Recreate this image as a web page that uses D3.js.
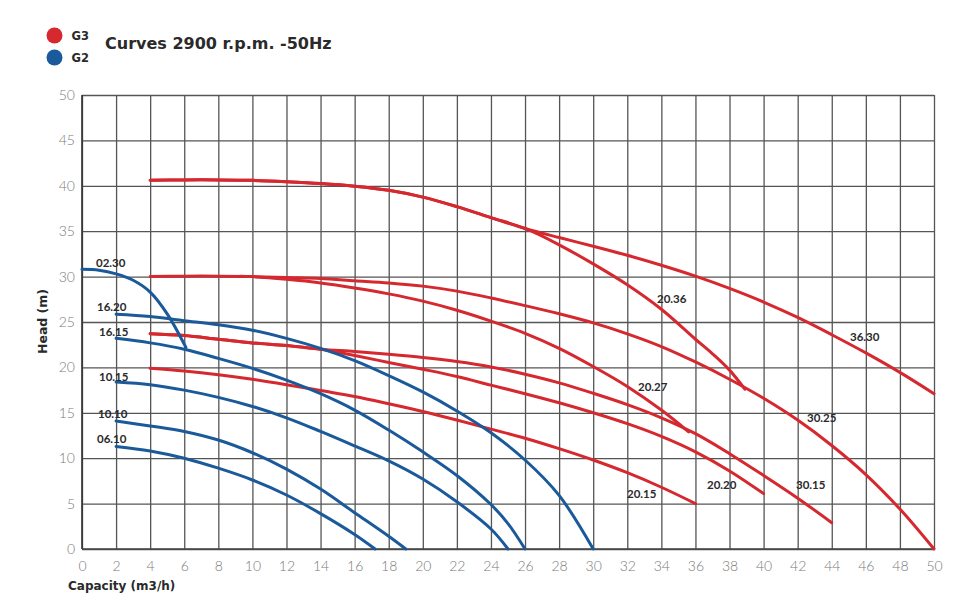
<!DOCTYPE html>
<html><head><meta charset="utf-8">
<script src="https://cdn.jsdelivr.net/npm/d3@7"></script>
<style>
body{margin:0;background:#fff;}
svg{display:block;}
</style></head>
<body><svg id="c" width="980" height="605"></svg>
<script>
// ---- data ----
const titleText = "Curves 2900 r.p.m. -50Hz";
const xLabel = "Capacity (m3/h)";
const yLabel = "Head (m)";
const xTickValues = d3.range(0, 51, 2);
const yTickValues = d3.range(0, 51, 5);
const legendItems = [{name: "G3", group: "G3"}, {name: "G2", group: "G2"}];

// G3 (red) series
const s3630 = [[4,40.6],[6,40.65],[8,40.65],[10,40.6],[12,40.45],[14,40.25],[16,39.95],[18,39.5],[20,38.75],[22,37.7],[24,36.5],[26,35.3],[28,34.3],[30,33.35],[32,32.35],[34,31.25],[36,30.05],[38,28.7],[40,27.2],[42,25.5],[44,23.6],[46,21.6],[48,19.45],[50,17.1]];
const s2036 = [[4,40.6],[6,40.65],[8,40.65],[10,40.6],[12,40.45],[14,40.25],[16,39.95],[18,39.5],[20,38.75],[22,37.7],[24,36.5],[26,35.3],[28,33.5],[30,31.4],[32,29.1],[34,26.4],[36,23.1],[37,21.5],[38,19.7],[38.9,17.6]];
const s3025 = [[4,30.0],[6,30.05],[8,30.05],[10,30.0],[12,29.9],[14,29.8],[16,29.55],[18,29.3],[20,28.95],[22,28.4],[24,27.65],[26,26.8],[28,25.9],[30,24.9],[32,23.7],[34,22.3],[36,20.6],[38,18.7],[40,16.6],[42,14.2],[44,11.4],[46,8.2],[48,4.4],[50,0]];
const s2027 = [[9.3,30.05],[10,30.0],[12,29.7],[14,29.3],[16,28.75],[18,28.1],[20,27.3],[22,26.3],[24,25.1],[26,23.75],[28,22.1],[30,20.1],[32,17.9],[34,15.3],[35.6,12.9]];
const s3015 = [[4,23.7],[6,23.5],[8,23.1],[10,22.7],[12,22.4],[14,22.0],[16,21.75],[18,21.45],[20,21.1],[22,20.65],[24,20.05],[26,19.25],[28,18.3],[30,17.15],[32,15.9],[34,14.45],[36,12.7],[38,10.5],[40,8.1],[42,5.6],[44,2.9]];
const s2020 = [[4,23.7],[6,23.5],[8,23.1],[10,22.7],[12,22.4],[14,22.0],[16,21.3],[18,20.55],[20,19.8],[22,19.0],[24,18.05],[26,17.1],[28,16.1],[30,15.0],[32,13.8],[34,12.4],[36,10.7],[38,8.6],[40,6.1]];
const s2015 = [[4,19.9],[6,19.6],[8,19.2],[10,18.7],[12,18.1],[14,17.45],[16,16.8],[18,16.0],[20,15.15],[22,14.2],[24,13.2],[26,12.2],[28,11.05],[30,9.8],[32,8.4],[34,6.8],[36,5.0]];

// G2 (blue) series
const s0230 = [[0,30.8],[1,30.7],[2,30.3],[3,29.6],[4,28.3],[5,25.9],[6.1,22.2]];
const s1620 = [[2,25.85],[4,25.6],[6,25.15],[8,24.7],[10,24.1],[12,23.2],[14,22.1],[16,20.75],[18,19.1],[20,17.3],[22,15.2],[24,12.8],[26,9.8],[28,5.9],[30,0]];
const s1615 = [[2,23.2],[4,22.7],[6,22.0],[8,21.0],[10,19.9],[12,18.6],[14,17.1],[16,15.3],[18,13.1],[20,10.7],[22,8.1],[24,4.9],[25,2.8],[26,0]];
const s1015 = [[2,18.4],[4,18.1],[6,17.5],[8,16.7],[10,15.7],[12,14.45],[14,12.95],[16,11.35],[18,9.7],[20,7.7],[22,5.2],[24,2.2],[25,0]];
const s1010 = [[2,14.1],[4,13.55],[6,12.95],[8,12.0],[10,10.6],[12,8.8],[14,6.6],[16,4.0],[18,1.4],[19,0]];
const s0610 = [[2,11.3],[4,10.8],[6,10.0],[8,8.9],[10,7.6],[12,5.95],[14,3.9],[16,1.6],[17.2,0]];

const redSeries = [
  {name:"36.30", pts:s3630, lx:850, ly:340.5},
  {name:"20.36", pts:s2036, lx:657, ly:303},
  {name:"30.25", pts:s3025, lx:807, ly:422},
  {name:"20.27", pts:s2027, lx:638, ly:391},
  {name:"30.15", pts:s3015, lx:796, ly:489},
  {name:"20.20", pts:s2020, lx:707, ly:489},
  {name:"20.15", pts:s2015, lx:627, ly:498}
];
const blueSeries = [
  {name:"02.30", pts:s0230, lx:96, ly:267},
  {name:"16.20", pts:s1620, lx:97, ly:311},
  {name:"16.15", pts:s1615, lx:99, ly:336},
  {name:"10.15", pts:s1015, lx:99, ly:380.5},
  {name:"10.10", pts:s1010, lx:98, ly:418},
  {name:"06.10", pts:s0610, lx:97, ly:443}
];

// ---- drawing ----
const RED = "#d5282f", BLUE = "#1b5a9a";
const svg = d3.select("#c");
const x = d3.scaleLinear().domain([0,50]).range([82,934]);
const y = d3.scaleLinear().domain([0,50]).range([549,95]);
const color = d3.scaleOrdinal().domain(["G3","G2"]).range([RED, BLUE]);
const boldFont = "'DejaVu Sans', sans-serif";
const lblFont = "Lato, 'Open Sans', sans-serif";

// grid + axes
const gx = svg.append("g").attr("transform","translate(0,549)")
  .call(d3.axisBottom(x).tickValues(xTickValues).tickSize(-(549-95)).tickPadding(12).tickFormat(d3.format("d")));
const gy = svg.append("g").attr("transform","translate(82,0)")
  .call(d3.axisLeft(y).tickValues(yTickValues).tickSize(-(934-82)).tickPadding(7).tickFormat(d3.format("d")));
[gx, gy].forEach(g => {
  g.select(".domain").remove();
  g.selectAll(".tick line").attr("stroke","#555").attr("stroke-width",1.3);
  g.selectAll(".tick text").attr("fill","#7a7a7a").style("font-family",lblFont)
    .style("font-size","14px").style("font-weight","300");
});
svg.append("line").attr("x1",x(0)).attr("x2",x(0)).attr("y1",y(0)).attr("y2",y(50)).attr("stroke","#333").attr("stroke-width",1.6);
svg.append("line").attr("x1",x(0)).attr("x2",x(50)).attr("y1",y(0)).attr("y2",y(0)).attr("stroke","#444").attr("stroke-width",1.6);

const line = d3.line().x(d=>x(d[0])).y(d=>y(d[1])).curve(d3.curveCatmullRom.alpha(0.5));

svg.append("g").selectAll("path").data(redSeries).join("path")
  .attr("d", d=>line(d.pts)).attr("fill","none").attr("stroke",color("G3"))
  .attr("stroke-width",3).attr("stroke-linecap","round").attr("stroke-linejoin","round");
svg.append("g").selectAll("path").data(blueSeries).join("path")
  .attr("d", d=>line(d.pts)).attr("fill","none").attr("stroke",color("G2"))
  .attr("stroke-width",3).attr("stroke-linecap","round").attr("stroke-linejoin","round");

// series labels
svg.append("g").selectAll("text").data(redSeries.concat(blueSeries)).join("text")
  .attr("x", d=>d.lx).attr("y", d=>d.ly).text(d=>d.name)
  .attr("fill","#2a2a2a").style("font-family",lblFont).style("font-size","11.5px").style("font-weight","700");

// title + legend
svg.append("text").attr("x",105).attr("y",49).text(titleText)
  .attr("fill","#2a2a2a").style("font-family",boldFont).style("font-size","16px").style("font-weight","700");
const lg = svg.append("g").selectAll("g").data(legendItems).join("g")
  .attr("transform",(d,i)=>`translate(54.5,${35.5+i*22})`);
lg.append("circle").attr("r",8).attr("fill",d=>color(d.group));
lg.append("text").attr("x",17).attr("y",4.5).text(d=>d.name)
  .attr("fill","#2a2a2a").style("font-family",boldFont).style("font-size","11.5px").style("font-weight","700");

// axis titles
svg.append("text").attr("x",68).attr("y",590).text(xLabel)
  .attr("fill","#2a2a2a").style("font-family",boldFont).style("font-size","12px").style("font-weight","700");
svg.append("text").attr("transform","translate(47,321.5) rotate(-90)").attr("text-anchor","middle").text(yLabel)
  .attr("fill","#2a2a2a").style("font-family",boldFont).style("font-size","12.5px").style("font-weight","700");
</script>
</body></html>
